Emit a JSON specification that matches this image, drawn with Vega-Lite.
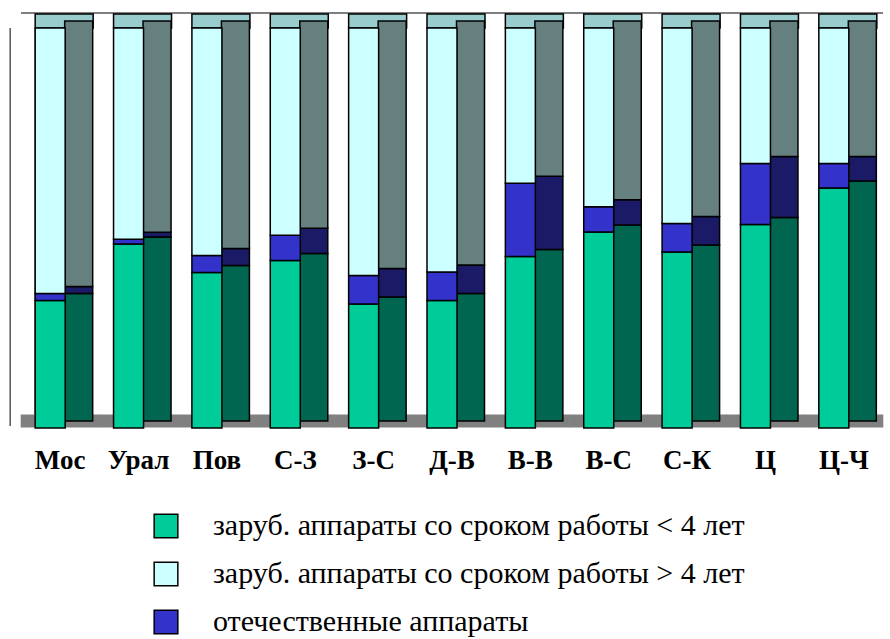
{
  "$schema": "https://vega.github.io/schema/vega-lite/v6.json",
  "autosize": "none",
  "width": 862,
  "height": 400,
  "padding": {"left": 21, "top": 28, "right": 7, "bottom": 211},
  "background": "white",
  "config": {"font": "Liberation Serif", "view": {"stroke": null}},
  "data": {"values": [
    {"region": "Мос", "cat": "заруб. аппараты со сроком работы < 4 лет", "value": 31.9},
    {"region": "Мос", "cat": "отечественные аппараты", "value": 1.7},
    {"region": "Мос", "cat": "заруб. аппараты со сроком работы > 4 лет", "value": 66.4},
    {"region": "Урал", "cat": "заруб. аппараты со сроком работы < 4 лет", "value": 46.0},
    {"region": "Урал", "cat": "отечественные аппараты", "value": 1.2},
    {"region": "Урал", "cat": "заруб. аппараты со сроком работы > 4 лет", "value": 52.8},
    {"region": "Пов", "cat": "заруб. аппараты со сроком работы < 4 лет", "value": 38.9},
    {"region": "Пов", "cat": "отечественные аппараты", "value": 4.2},
    {"region": "Пов", "cat": "заруб. аппараты со сроком работы > 4 лет", "value": 56.9},
    {"region": "С-З", "cat": "заруб. аппараты со сроком работы < 4 лет", "value": 41.9},
    {"region": "С-З", "cat": "отечественные аппараты", "value": 6.3},
    {"region": "С-З", "cat": "заруб. аппараты со сроком работы > 4 лет", "value": 51.8},
    {"region": "З-С", "cat": "заруб. аппараты со сроком работы < 4 лет", "value": 31.0},
    {"region": "З-С", "cat": "отечественные аппараты", "value": 7.1},
    {"region": "З-С", "cat": "заруб. аппараты со сроком работы > 4 лет", "value": 61.9},
    {"region": "Д-В", "cat": "заруб. аппараты со сроком работы < 4 лет", "value": 31.9},
    {"region": "Д-В", "cat": "отечественные аппараты", "value": 7.1},
    {"region": "Д-В", "cat": "заруб. аппараты со сроком работы > 4 лет", "value": 61.0},
    {"region": "В-В", "cat": "заруб. аппараты со сроком работы < 4 лет", "value": 42.9},
    {"region": "В-В", "cat": "отечественные аппараты", "value": 18.3},
    {"region": "В-В", "cat": "заруб. аппараты со сроком работы > 4 лет", "value": 38.8},
    {"region": "В-С", "cat": "заруб. аппараты со сроком работы < 4 лет", "value": 49.0},
    {"region": "В-С", "cat": "отечественные аппараты", "value": 6.3},
    {"region": "В-С", "cat": "заруб. аппараты со сроком работы > 4 лет", "value": 44.7},
    {"region": "С-К", "cat": "заруб. аппараты со сроком работы < 4 лет", "value": 44.0},
    {"region": "С-К", "cat": "отечественные аппараты", "value": 7.1},
    {"region": "С-К", "cat": "заруб. аппараты со сроком работы > 4 лет", "value": 48.9},
    {"region": "Ц", "cat": "заруб. аппараты со сроком работы < 4 лет", "value": 50.9},
    {"region": "Ц", "cat": "отечественные аппараты", "value": 15.2},
    {"region": "Ц", "cat": "заруб. аппараты со сроком работы > 4 лет", "value": 33.9},
    {"region": "Ц-Ч", "cat": "заруб. аппараты со сроком работы < 4 лет", "value": 60.0},
    {"region": "Ц-Ч", "cat": "отечественные аппараты", "value": 6.1},
    {"region": "Ц-Ч", "cat": "заруб. аппараты со сроком работы > 4 лет", "value": 33.9}
  ]},
  "transform": [
    {"calculate": "datum.cat == 'отечественные аппараты' ? 1 : (indexof(datum.cat, '<') >= 0 ? 0 : 2)", "as": "ord"}
  ],
  "layer": [
    {
      "transform": [{"filter": "datum.ord == 0"}],
      "mark": {"type": "tick", "color": "#808080", "opacity": 1, "thickness": 13, "size": 79, "yOffset": -7},
      "encoding": {
        "x": {"field": "region", "type": "nominal", "sort": null, "scale": {"paddingInner": 0, "paddingOuter": 0},
          "axis": {"title": null, "ticks": false, "domain": false, "labelAngle": 0, "labelPadding": 40, "labelBaseline": "alphabetic",
            "labelFont": "Liberation Serif", "labelFontWeight": "bold", "labelFontSize": 27, "labelColor": "black"}},
        "y": {"datum": 0, "type": "quantitative", "scale": {"domain": [0, 100]}, "axis": null}
      }
    },
    {
      "transform": [{"filter": "datum.ord == 0 && datum.region == 'Мос'"}],
      "mark": {"type": "rule", "color": "#555555", "strokeWidth": 1.5, "yOffset": -15},
      "encoding": {"y": {"datum": 100, "type": "quantitative"}}
    },
    {
      "transform": [{"filter": "datum.ord == 0 && datum.region == 'Мос'"}],
      "mark": {"type": "rule", "color": "#555555", "strokeWidth": 1.5, "xOffset": -25, "yOffset": -14},
      "encoding": {
        "x": {"field": "region", "type": "nominal", "sort": null},
        "y": {"datum": 0, "type": "quantitative"},
        "y2": {"datum": 100}
      }
    },
    {
      "transform": [{"filter": "datum.ord == 0 && datum.region == 'Мос'"}],
      "mark": {"type": "rule", "color": "#555555", "strokeWidth": 1.5, "xOffset": -50, "yOffset": -2},
      "encoding": {
        "x": {"field": "region", "type": "nominal", "sort": null},
        "y": {"datum": 0, "type": "quantitative"},
        "y2": {"datum": 100}
      }
    },
    {
      "transform": [{"filter": "datum.ord == 0"}],
      "mark": {"type": "tick", "color": "#99CCCC", "opacity": 1, "thickness": 14, "size": 58, "xOffset": 4, "yOffset": -7, "stroke": "black", "strokeWidth": 1.5},
      "encoding": {
        "x": {"field": "region", "type": "nominal", "sort": null},
        "y": {"datum": 100, "type": "quantitative"}
      }
    },
    {
      "mark": {"type": "bar", "width": 28, "xOffset": 18.5, "yOffset": -7, "stroke": "black", "strokeWidth": 1.5},
      "encoding": {
        "x": {"field": "region", "type": "nominal", "sort": null},
        "y": {"field": "value", "type": "quantitative", "stack": "zero"},
        "order": {"field": "ord", "type": "quantitative"},
        "color": {"field": "cat", "type": "nominal", "legend": null,
          "scale": {"domain": ["заруб. аппараты со сроком работы < 4 лет", "заруб. аппараты со сроком работы > 4 лет", "отечественные аппараты"],
                    "range": ["#006650", "#668080", "#1A1A66"]}}
      }
    },
    {
      "mark": {"type": "bar", "width": 30, "xOffset": -10, "stroke": "black", "strokeWidth": 1.5},
      "encoding": {
        "x": {"field": "region", "type": "nominal", "sort": null},
        "y": {"field": "value", "type": "quantitative", "stack": "zero"},
        "order": {"field": "ord", "type": "quantitative"},
        "color": {"field": "cat", "type": "nominal",
          "scale": {"domain": ["заруб. аппараты со сроком работы < 4 лет", "заруб. аппараты со сроком работы > 4 лет", "отечественные аппараты"],
                    "range": ["#00CC99", "#CCFFFF", "#3333CC"]},
          "legend": {"title": null, "orient": "none", "legendX": 130, "legendY": 483, "direction": "vertical",
            "symbolType": "square", "symbolSize": 560, "symbolStrokeColor": "black", "symbolStrokeWidth": 1.5,
            "symbolOpacity": 1, "labelFont": "Liberation Serif", "labelFontSize": 30, "labelColor": "black",
            "labelOffset": 32, "rowPadding": 18, "labelLimit": 0}}
      }
    }
  ],
  "resolve": {"scale": {"color": "independent"}}
}
